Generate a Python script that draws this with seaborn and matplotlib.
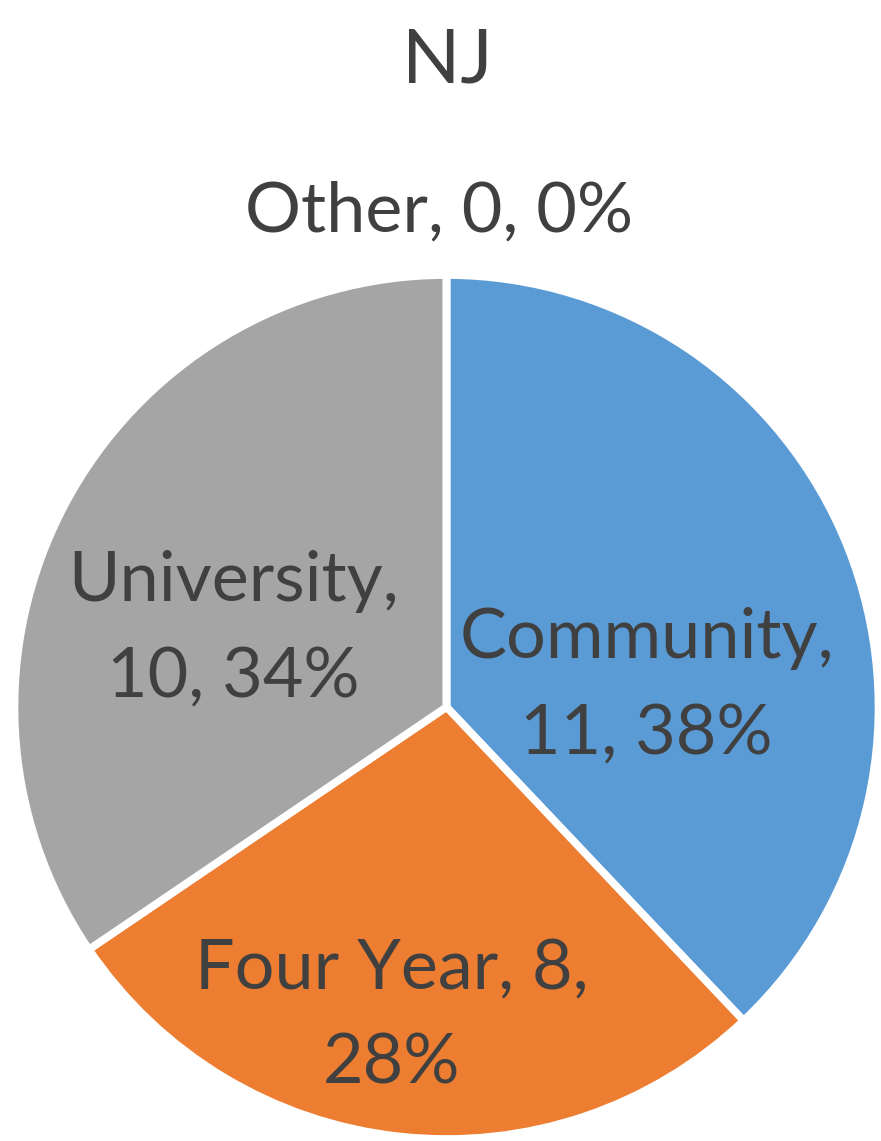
import matplotlib
matplotlib.use("Agg")
import matplotlib.pyplot as plt
import seaborn as sns

# Enrollment by institution type, New Jersey
categories = ["Community", "Four Year", "University", "Other"]
counts = [11, 8, 10, 0]
percents = [38, 28, 34, 0]
title = "NJ"

sns.set_theme(style="white")
plt.rcParams["font.family"] = ["Lato", "DejaVu Sans"]

colors = ["#5B9BD5", "#ED7D31", "#A5A5A5", "#FFC000"]
text_color = "#404040"

fig = plt.figure(figsize=(8.81, 11.41), dpi=100)
ax = fig.add_axes([0.01646, 0.00175, 0.9807, 0.7572])

wedges, _ = ax.pie(
    counts,
    colors=colors,
    startangle=90,
    counterclock=False,
    radius=1.0,
    wedgeprops=dict(edgecolor="white", linewidth=5.5),
)
ax.set_xlim(-1, 1)
ax.set_ylim(-1, 1)
ax.set_aspect("equal")
ax.axis("off")

# data label placement (axes data units) and line breaks
label_pos = {
    "Community": (0.463, 0.048),
    "Four Year": (-0.127, -0.717),
    "University": (-0.493, 0.18),
    "Other": (-0.018, 1.146),
}
label_fmt = {
    "Community": "{c},\n{n}, {p}%",
    "Four Year": "{c}, {n},\n{p}%",
    "University": "{c},\n{n}, {p}%",
    "Other": "{c}, {n}, {p}%",
}
for cat, n, p in zip(categories, counts, percents):
    x, y = label_pos[cat]
    ax.text(x, y, label_fmt[cat].format(c=cat, n=n, p=p),
            ha="center", va="center", fontsize=50.5, color=text_color,
            linespacing=1.62, clip_on=False)

fig.text(0.508, 1 - 61 / 1141, title, ha="center", va="center",
         fontsize=55, color=text_color)

fig.savefig("out.png", dpi=100, facecolor="white")
